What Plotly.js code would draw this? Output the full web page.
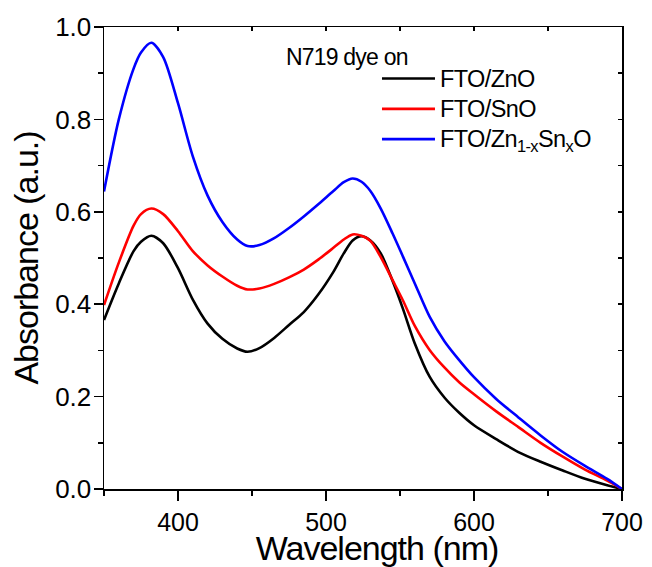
<!DOCTYPE html>
<html>
<head>
<meta charset="utf-8">
<script src="https://cdn.plot.ly/plotly-3.0.1.min.js"></script>
<style>
html,body{margin:0;padding:0;background:#fff;}
#chart{width:652px;height:567px;}
.legendtext{font-size:23.5px !important; letter-spacing:-0.6px;}
.xtitle{transform:translate(14px, 4px);}
.xtitle, .ytitle{letter-spacing:-1px;}
.annotation-text{letter-spacing:-0.8px;}
</style>
</head>
<body>
<div id="chart"></div>
<script>
// Wavelength grid (nm)
const wavelength = [350, 360, 370, 375, 382, 390, 400, 410, 420, 430, 440, 447, 455, 465, 475, 485, 495, 505, 512, 518, 524, 530, 537, 545, 552, 560, 570, 580, 590, 600, 615, 630, 645, 660, 675, 690, 700];

// Absorbance values (a.u.)
const absZnO = [0.366, 0.445, 0.515, 0.535, 0.548, 0.532, 0.478, 0.410, 0.358, 0.325, 0.304, 0.297, 0.305, 0.327, 0.355, 0.383, 0.422, 0.470, 0.510, 0.538, 0.547, 0.538, 0.510, 0.450, 0.390, 0.315, 0.243, 0.198, 0.165, 0.138, 0.108, 0.080, 0.059, 0.040, 0.022, 0.008, 0.000];
const absSnO = [0.398, 0.490, 0.570, 0.595, 0.607, 0.595, 0.558, 0.515, 0.484, 0.460, 0.440, 0.432, 0.434, 0.444, 0.458, 0.475, 0.497, 0.522, 0.540, 0.551, 0.548, 0.537, 0.502, 0.452, 0.408, 0.353, 0.301, 0.263, 0.231, 0.205, 0.168, 0.134, 0.100, 0.070, 0.042, 0.018, 0.000];
const absZnSnO = [0.644, 0.800, 0.910, 0.945, 0.966, 0.935, 0.835, 0.720, 0.635, 0.578, 0.540, 0.526, 0.528, 0.543, 0.565, 0.590, 0.617, 0.645, 0.664, 0.672, 0.665, 0.645, 0.607, 0.553, 0.503, 0.445, 0.373, 0.320, 0.279, 0.242, 0.195, 0.155, 0.116, 0.080, 0.050, 0.022, 0.000];

const seriesNames = ["FTO/ZnO", "FTO/SnO", "FTO/Zn<sub>1-x</sub>Sn<sub>x</sub>O"];
const seriesColors = ["#000000", "#ff0000", "#0000ff"];
const seriesValues = [absZnO, absSnO, absZnSnO];

const xTickVals = [400, 500, 600, 700];
const yTickVals = [0.0, 0.2, 0.4, 0.6, 0.8, 1.0];
const yTickText = ["0.0", "0.2", "0.4", "0.6", "0.8", "1.0"];

const FONT = "Liberation Sans, Arial, sans-serif";

const traces = seriesValues.map((vals, i) => ({
  x: wavelength,
  y: vals,
  type: "scatter",
  mode: "lines",
  name: seriesNames[i],
  line: {color: seriesColors[i], width: 2.6, shape: "spline", smoothing: 0.8},
  xaxis: "x",
  yaxis: "y"
}));

// invisible helper traces so the mirrored top/right axes (inward ticks) are drawn
traces.push({x: [wavelength[0]], y: [0], xaxis: "x", yaxis: "y2", mode: "none", showlegend: false, hoverinfo: "skip", type: "scatter"});
traces.push({x: [wavelength[0]], y: [0], xaxis: "x2", yaxis: "y", mode: "none", showlegend: false, hoverinfo: "skip", type: "scatter"});

const layout = {
  width: 652,
  height: 567,
  paper_bgcolor: "#ffffff",
  plot_bgcolor: "#ffffff",
  margin: {l: 104, r: 30, t: 27, b: 78},
  font: {family: FONT, color: "#000"},
  showlegend: true,
  legend: {
    x: 0.527, y: 0.932, xanchor: "left", yanchor: "top",
    font: {family: FONT, size: 21, color: "#000"},
    bgcolor: "rgba(0,0,0,0)",
    itemwidth: 53,
    tracegroupgap: 0
  },
  xaxis: {
    range: [350, 700],
    tickvals: xTickVals,
    ticks: "outside", ticklen: 10, tickwidth: 1.5, tickcolor: "#000",
    minor: {dtick: 50, ticks: "outside", ticklen: 5, tickwidth: 1.5, tickcolor: "#000"},
    showline: true, linecolor: "#000", linewidth: 1.5,
    showgrid: false, zeroline: false,
    tickfont: {family: FONT, size: 25, color: "#000"},
    title: {text: "Wavelength (nm)", font: {family: FONT, size: 34, color: "#000"}, standoff: 7}
  },
  xaxis2: {
    overlaying: "x", side: "top", anchor: "y", range: [350, 700],
    dtick: 50, tick0: 350,
    ticks: "inside", ticklen: 4, tickwidth: 1.5, tickcolor: "#000",
    showticklabels: false, showgrid: false, zeroline: false,
    showline: true, linecolor: "#000", linewidth: 1.5
  },
  yaxis: {
    range: [0, 1.0],
    tickvals: yTickVals, ticktext: yTickText,
    ticks: "outside", ticklen: 9, tickwidth: 1.5, tickcolor: "#000",
    minor: {dtick: 0.1, ticks: "outside", ticklen: 5, tickwidth: 1.5, tickcolor: "#000"},
    showline: true, linecolor: "#000", linewidth: 1.5,
    showgrid: false, zeroline: false,
    ticklabelstandoff: -3,
    tickfont: {family: FONT, size: 26, color: "#000"},
    title: {text: "Absorbance (a.u.)", font: {family: FONT, size: 34, color: "#000"}, standoff: 6}
  },
  yaxis2: {
    overlaying: "y", side: "right", anchor: "x", range: [0, 1.0],
    dtick: 0.1, tick0: 0,
    ticks: "inside", ticklen: 4, tickwidth: 1.5, tickcolor: "#000",
    showticklabels: false, showgrid: false, zeroline: false,
    showline: true, linecolor: "#000", linewidth: 1.5
  },
  annotations: [{
    text: "N719 dye on",
    xref: "paper", yref: "paper",
    x: 0.348, y: 0.935, xanchor: "left", yanchor: "middle",
    showarrow: false,
    font: {family: FONT, size: 23, color: "#000"}
  }]
};

Plotly.newPlot("chart", traces, layout, {displayModeBar: false, staticPlot: true});
</script>
</body>
</html>
